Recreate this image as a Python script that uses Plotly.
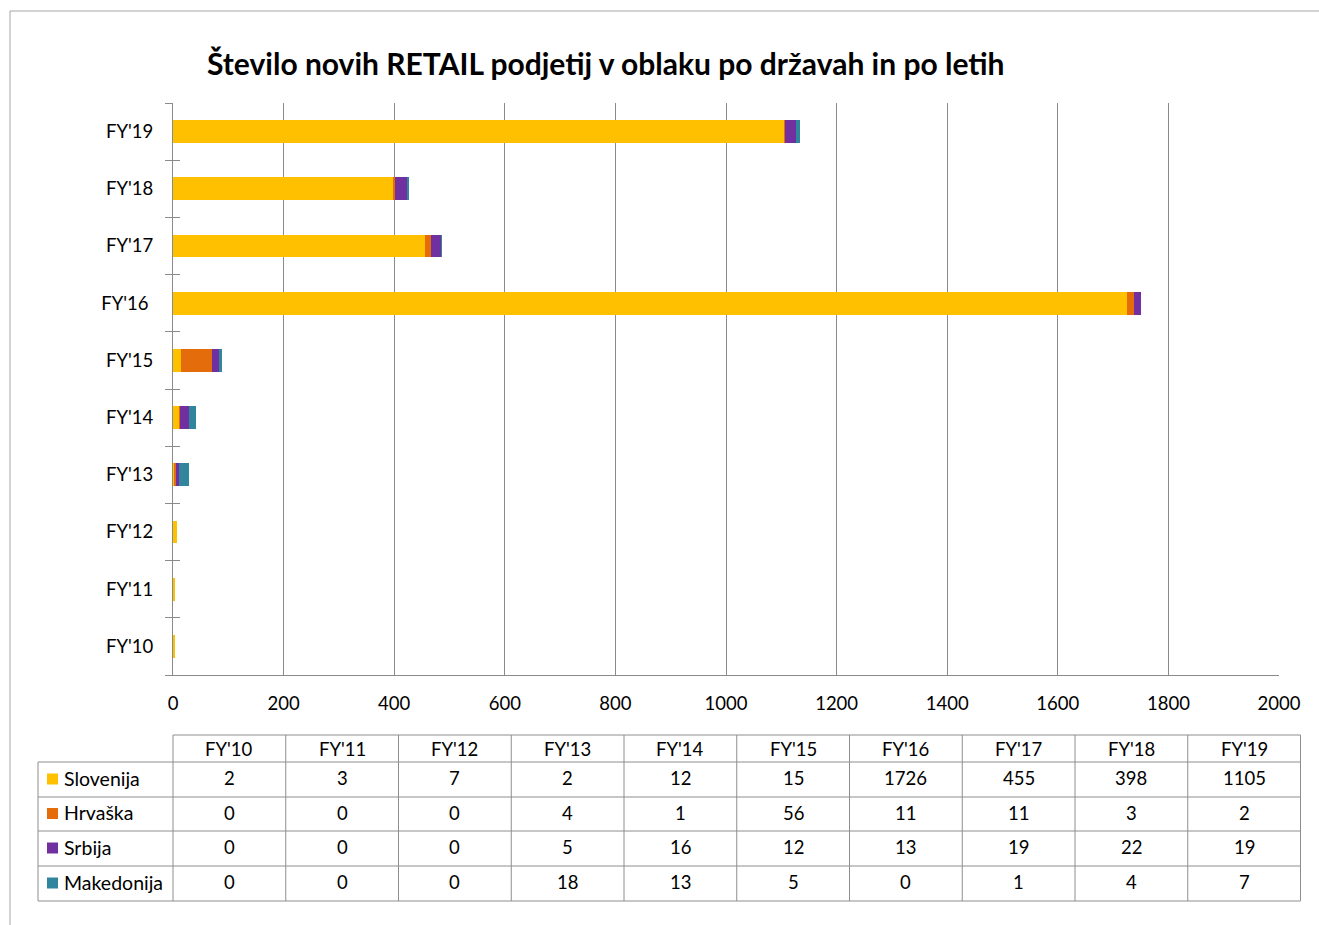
import plotly.graph_objects as go

# ---- data ----
years = ["FY'10", "FY'11", "FY'12", "FY'13", "FY'14", "FY'15", "FY'16", "FY'17", "FY'18", "FY'19"]
tick_text = ["FY'10", "FY'11", "FY'12", "FY'13", "FY'14", "FY'15", "FY'16\u00a0", "FY'17", "FY'18", "FY'19"]
series_names = ["Slovenija", "Hrvaška", "Srbija", "Makedonija"]
slovenija = [2, 3, 7, 2, 12, 15, 1726, 455, 398, 1105]
hrvaska = [0, 0, 0, 4, 1, 56, 11, 11, 3, 2]
srbija = [0, 0, 0, 5, 16, 12, 13, 19, 22, 19]
makedonija = [0, 0, 0, 18, 13, 5, 0, 1, 4, 7]
x_ticks = [0, 200, 400, 600, 800, 1000, 1200, 1400, 1600, 1800, 2000]
title = "Število novih RETAIL podjetij v oblaku po državah in po letih"

colors = ["#FFC000", "#E46C0A", "#7030A0", "#31859C"]
values = [slovenija, hrvaska, srbija, makedonija]

W, H = 1319, 925
FONT = "Lato, 'Open Sans', sans-serif"
TXT = "#000000"
GRID = "#8a8a8a"
TLINE = "#8e8e8e"
FS = 18.5
FS_LBL = 19.5


def px(x):
    return x / W


def py(y):
    return 1 - y / H


fig = go.Figure()
for name, vals, col in zip(series_names, values, colors):
    fig.add_trace(go.Bar(
        y=years, x=vals, name=name, orientation="h",
        marker=dict(color=col, line=dict(width=0)),
        showlegend=False,
    ))

PL, PR, PT, PB = 173, 1279, 103, 675

fig.update_layout(
    width=W, height=H, autosize=False,
    margin=dict(l=0, r=0, t=0, b=0, pad=0, autoexpand=False),
    paper_bgcolor="white", plot_bgcolor="white",
    barmode="stack", bargap=0.6,
    font=dict(family=FONT, size=FS, color=TXT),
    xaxis=dict(
        domain=[px(PL), px(PR)], range=[0, 2000], tickvals=x_ticks,
        showgrid=True, gridcolor=GRID, gridwidth=1,
        showline=True, linecolor=GRID, linewidth=1,
        zeroline=False, ticks="", ticklabelstandoff=12, automargin=False,
        tickfont=dict(size=FS, color=TXT, family=FONT),
    ),
    yaxis=dict(
        domain=[py(PB), py(PT)], type="category", categoryarray=years,
        range=[-0.5, 9.5], tickvals=years, ticktext=tick_text,
        showgrid=False, showline=True, linecolor=GRID, linewidth=1,
        ticks="outside", ticklen=7, tickcolor=GRID, tickson="boundaries",
        ticklabelstandoff=15, automargin=False,
        tickfont=dict(size=FS, color=TXT, family=FONT),
    ),
    yaxis2=dict(
        domain=[py(PB), py(PT)], overlaying="y", type="category",
        categoryarray=years, range=[-0.5, 9.5], side="left",
        showgrid=False, showline=False, showticklabels=False,
        ticks="inside", ticklen=7, tickcolor=GRID, tickson="boundaries",
        tickvals=years, automargin=False,
    ),
)
# invisible trace to activate yaxis2
fig.add_trace(go.Scatter(x=[None], y=[years[0]], yaxis="y2", showlegend=False, hoverinfo="skip"))

shapes = []
annotations = []

# outer chart border (left and top)
shapes.append(dict(type="line", xref="paper", yref="paper", x0=px(10), y0=py(925), x1=px(10), y1=py(11),
                   line=dict(color="#a6a6a6", width=1)))
shapes.append(dict(type="line", xref="paper", yref="paper", x0=px(10), y0=py(11), x1=px(1319), y1=py(11),
                   line=dict(color="#a6a6a6", width=1)))

# title
annotations.append(dict(text="<b>" + title + "</b>", xref="paper", yref="paper", x=px(606), y=py(63.5),
                        xanchor="center", yanchor="middle", showarrow=False,
                        font=dict(size=30, color=TXT, family=FONT)))

# data table
col_w = 112.75
col_x = [PL + k * col_w for k in range(len(years) + 1)]
row_y = [735, 762, 797, 831, 866, 901]
TL = 38
tl = dict(color=TLINE, width=1)
shapes.append(dict(type="line", xref="paper", yref="paper", x0=px(col_x[0]), x1=px(col_x[-1]),
                   y0=py(row_y[0]), y1=py(row_y[0]), line=tl))
for y in row_y[1:]:
    shapes.append(dict(type="line", xref="paper", yref="paper", x0=px(TL), x1=px(col_x[-1]),
                       y0=py(y), y1=py(y), line=tl))
shapes.append(dict(type="line", xref="paper", yref="paper", x0=px(TL), x1=px(TL),
                   y0=py(row_y[1]), y1=py(row_y[-1]), line=tl))
for x in col_x:
    shapes.append(dict(type="line", xref="paper", yref="paper", x0=px(x), x1=px(x),
                       y0=py(row_y[0]), y1=py(row_y[-1]), line=tl))

for i, yr in enumerate(years):
    annotations.append(dict(text=yr, xref="paper", yref="paper",
                            x=px((col_x[i] + col_x[i + 1]) / 2), y=py((row_y[0] + row_y[1]) / 2),
                            xanchor="center", yanchor="middle", showarrow=False,
                            font=dict(size=FS, color=TXT, family=FONT)))
for r, (name, vals, col) in enumerate(zip(series_names, values, colors)):
    yc = (row_y[r + 1] + row_y[r + 2]) / 2
    ty = yc - 1.5
    shapes.append(dict(type="rect", xref="paper", yref="paper", x0=px(47), x1=px(58),
                       y0=py(yc + 5), y1=py(yc - 6), fillcolor=col, line=dict(width=0)))
    annotations.append(dict(text=name, xref="paper", yref="paper", x=px(62), y=py(ty),
                            xanchor="left", yanchor="middle", showarrow=False,
                            font=dict(size=FS_LBL, color=TXT, family=FONT)))
    for i, v in enumerate(vals):
        annotations.append(dict(text=str(v), xref="paper", yref="paper",
                                x=px((col_x[i] + col_x[i + 1]) / 2), y=py(ty),
                                xanchor="center", yanchor="middle", showarrow=False,
                                font=dict(size=FS, color=TXT, family=FONT)))

fig.update_layout(shapes=shapes, annotations=annotations)
fig.write_html("out.html",
               config={"responsive": False, "displayModeBar": False},
               post_script="document.body.style.margin='0';document.body.style.overflow='hidden';")
